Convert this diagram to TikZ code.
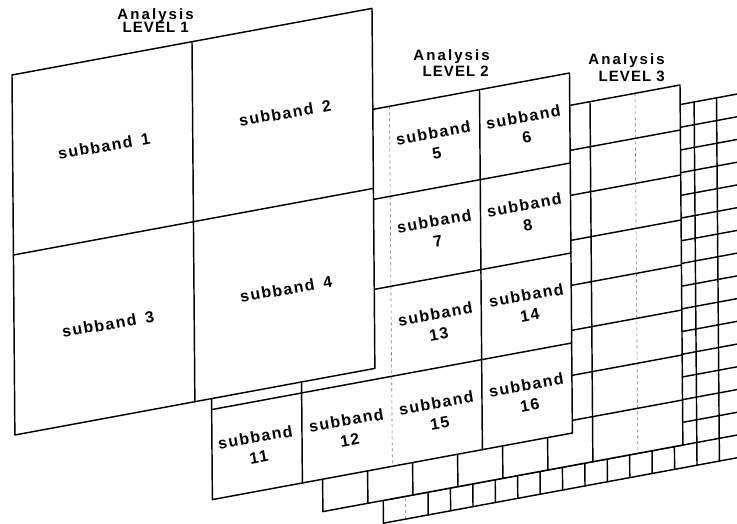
\documentclass[tikz,border=0pt]{standalone}
\usepackage{fontspec}
\setmainfont{Liberation Sans}
\newfontfamily\lblfont[LetterSpace=9]{Liberation Sans}
\newfontfamily\hdrfont[LetterSpace=14]{Liberation Sans}
\newfontfamily\lvlfont[LetterSpace=7]{Liberation Sans}
\tikzset{
  edge/.style={line width=1.45pt, line join=round, line cap=round, black},
  faint/.style={line width=0.6pt, dash pattern=on 3pt off 3pt, black!55},
  sb/.style={font=\lblfont\bfseries\fontsize{16}{20}\selectfont, rotate=10, align=center, inner sep=0pt},
  hdr/.style={font=\hdrfont\bfseries\fontsize{15}{16}\selectfont, inner sep=0pt, anchor=base east},
  lvl/.style={font=\lvlfont\bfseries\fontsize{15}{16}\selectfont, inner sep=0pt, anchor=base east}
}
% #1 left x, #2 top-left y, #3 columns, #4 rows, #5 cell width, #6 cell height, #7 faint column
\newcommand{\drawplane}[7]{%
  \begin{scope}[shift={(#1pt,-#2pt)}, x={(1pt,0.185pt)}, y={(0.008pt,-1pt)}]
    \pgfmathsetmacro\PW{#3*#5}
    \pgfmathsetmacro\PH{#4*#6}
    \pgfmathtruncatemacro\NC{#3-1}
    \pgfmathtruncatemacro\NR{#4-1}
    \fill[white] (0,0) -- (\PW,0) -- (\PW,\PH) -- (0,\PH) -- cycle;
    \foreach \i in {1,...,\NC}{%
      \ifnum\i=#7\relax
        \draw[faint] (\i*#5,0) -- (\i*#5,\PH);
      \else
        \draw[edge] (\i*#5,0) -- (\i*#5,\PH);
      \fi
    }
    \foreach \j in {1,...,\NR}{\draw[edge] (0,\j*#6) -- (\PW,\j*#6);}
    \draw[edge] (0,0) -- (\PW,0) -- (\PW,\PH) -- (0,\PH) -- cycle;
  \end{scope}}
\begin{document}
\begin{tikzpicture}[x=1pt,y=-1pt]
\useasboundingbox (0,0) rectangle (737,524);
\clip (0,0) rectangle (737,524);
\fill[white] (0,0) rectangle (737,524);
% planes, back to front
\drawplane{380.5}{160}{16}{16}{22.4}{22.7}{1}
\drawplane{320}{151.6}{8}{8}{45}{45}{7}
\drawplane{209.5}{139.6}{4}{4}{90}{90}{2}
\drawplane{12}{75}{2}{2}{180}{180}{0}
% level 1 labels
\node[sb] (s1) at (104,146) {subband\hspace{9pt}1};
\node[sb] (s2) at (285,113) {subband\hspace{9pt}2};
\node[sb] (s3) at (108,324) {subband\hspace{9pt}3};
\node[sb] (s4) at (286,289) {subband\hspace{9pt}4};
% level 2 labels
\node[sb] (s5) at (435,143) {subband\\5};
\node[sb] (s6) at (525,127) {subband\\6};
\node[sb] (s7) at (436,231) {subband\\7};
\node[sb] (s8) at (526,215) {subband\\8};
\node[sb] (s13) at (437,324) {subband\\13};
\node[sb] (s14) at (528,305) {subband\\14};
\node[sb] (s15) at (438,413) {subband\\15};
\node[sb] (s16) at (528,395) {subband\\16};
\node[sb] (s11) at (257,447) {subband\\11};
\node[sb] (s12) at (348,430) {subband\\12};
% headers
\node[hdr] (a1) at (194,19.5) {Analysis};
\node[lvl] (l1) at (189,33) {LEVEL 1};
\node[hdr] (a2) at (490,60.5) {Analysis};
\node[lvl] (l2) at (489,77) {LEVEL 2};
\node[hdr] (a3) at (665,65) {Analysis};
\node[lvl] (l3) at (665,82) {LEVEL 3};
\end{tikzpicture}
\end{document}
